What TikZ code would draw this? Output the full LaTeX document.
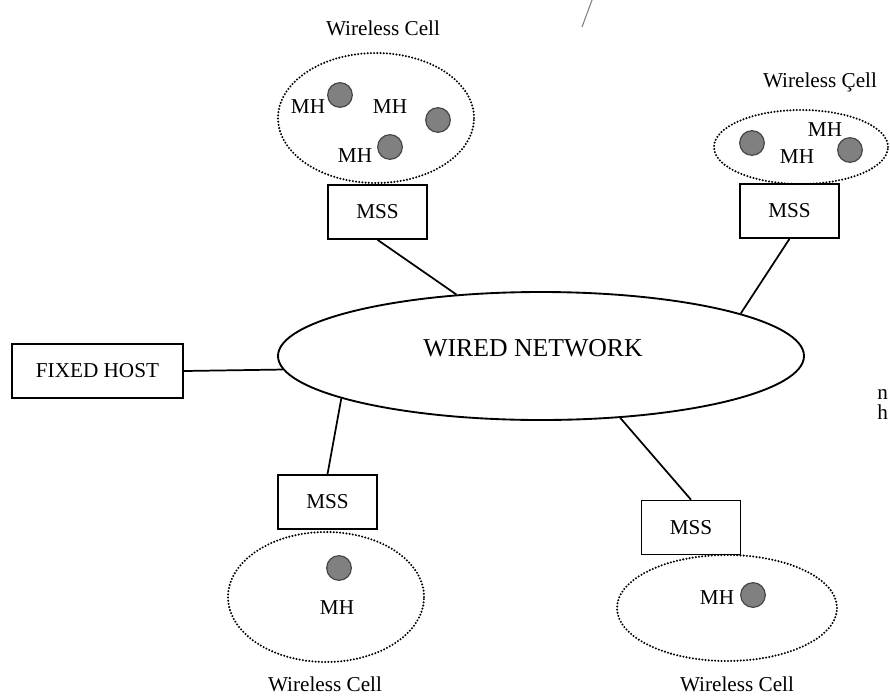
\documentclass[tikz,border=0pt]{standalone}
\usepackage{fontspec}
\setmainfont{Liberation Serif}
\usetikzlibrary{shapes.geometric}
\definecolor{dotfill}{RGB}{128,128,128}
\definecolor{dotedge}{RGB}{70,70,70}
\begin{document}
\begin{tikzpicture}[x=0.75pt,y=-0.75pt,
  lbl/.style={font=\fontsize{15.9}{18}\selectfont, inner sep=0pt},
  cell/.style={draw, ellipse, line width=1.7pt, dash pattern=on 0pt off 2.4pt, line cap=round, inner sep=0pt},
  mssbox/.style={draw, line width=1.2pt, minimum width=74pt, minimum height=40.5pt, inner sep=0pt, font=\fontsize{15.9}{18}\selectfont},
  mhdot/.style={circle, fill=dotfill, draw=dotedge, line width=0.9pt, minimum size=18.5pt, inner sep=0pt},
  link/.style={line width=1.3pt}]
\useasboundingbox (0,0) rectangle (890,697);

% central network
\node[draw, ellipse, line width=1.4pt, minimum width=394.5pt, minimum height=96pt, inner sep=0pt] (net) at (541,356) {};
\node[font=\fontsize{19.3}{22}\selectfont] (nettxt) at (533,348) {WIRED NETWORK};

% fixed host
\node[draw, line width=1.2pt, minimum width=128.5pt, minimum height=40.5pt, inner sep=0pt, font=\fontsize{15.9}{18}\selectfont] (fh) at (97.5,371) {FIXED HOST};

% top-left cell
\node[lbl] (t1) at (383,28) {Wireless Cell};
\node[cell, minimum width=147pt, minimum height=97.5pt] (c1) at (376,118) {};
\node[mhdot] (d1a) at (340,95) {};
\node[mhdot] (d1b) at (438,120) {};
\node[mhdot] (d1c) at (390,147) {};
\node[lbl] (m1a) at (308,107) {MH};
\node[lbl] (m1b) at (390,107) {MH};
\node[lbl] (m1c) at (355,156) {MH};
\node[mssbox] (s1) at (377.5,212) {MSS};

% top-right cell
\node[lbl] (t2) at (820,82) {Wireless Çell};
\node[cell, minimum width=130.5pt, minimum height=55.5pt] (c2) at (801,147) {};
\node[mhdot] (d2a) at (752,143) {};
\node[mhdot] (d2b) at (850,150) {};
\node[lbl] (m2a) at (825,130) {MH};
\node[lbl] (m2b) at (797,157) {MH};
\node[mssbox] (s2) at (789.5,211) {MSS};

% bottom-left cell
\node[mssbox] (s3) at (327.5,502) {MSS};
\node[cell, minimum width=147pt, minimum height=97.5pt] (c3) at (326,597) {};
\node[mhdot] (d3a) at (339,568) {};
\node[lbl] (m3a) at (337,608) {MH};
\node[lbl] (t3) at (325,684) {Wireless Cell};

% bottom-right cell
\node[mssbox] (s4) at (691,527.5) {MSS};
\node[cell, minimum width=165pt, minimum height=79.5pt] (c4) at (727,608) {};
\node[mhdot] (d4a) at (753,595) {};
\node[lbl] (m4a) at (717,598) {MH};
\node[lbl] (t4) at (737,684) {Wireless Cell};

% connectors
\draw[link] (s1.south) -- (net.144.3);
\draw[link] (s2.south) -- (net.12.07);
\draw[link] (s3.north) -- (net.192.5);
\draw[link] (s4.north) -- (net.322.6);
\draw[link] (fh.east) -- (net.183.6);

% stray marks of the scan
\draw[gray, line width=0.8pt] (592,0) -- (582,27);
\node[lbl, anchor=west] (frag1) at (877,394) {n};
\node[lbl, anchor=west] (frag2) at (877,412) {h};
\end{tikzpicture}
\end{document}
